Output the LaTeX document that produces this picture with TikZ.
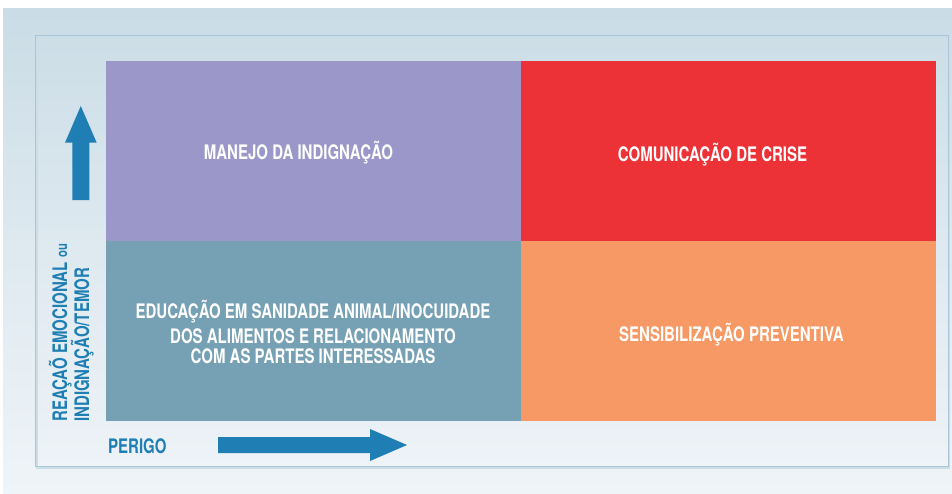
\documentclass[tikz,border=0pt]{standalone}
\usepackage{fontspec}
\newfontfamily\cnfont{TeX Gyre Heros}[FakeStretch=0.75]
\usetikzlibrary{positioning}
\definecolor{quadpurple}{HTML}{9B98C9}
\definecolor{quadred}{HTML}{EC3237}
\definecolor{quadteal}{HTML}{76A0B4}
\definecolor{quadorange}{HTML}{F79964}
\definecolor{axisblue}{HTML}{1F7EB3}
\definecolor{bgtop}{HTML}{CADCE6}
\definecolor{bgbottom}{HTML}{EFF4F8}
\definecolor{framecol}{HTML}{A9C6D6}
\tikzset{
	quad/.style={draw=none, inner sep=0pt, anchor=north west, minimum width=415pt, minimum height=179.75pt},
	quadtext/.style={text=white, font=\cnfont\bfseries\fontsize{20}{21}\selectfont, inner sep=0pt, anchor=base},
	axislabel/.style={text=axisblue, font=\cnfont\bfseries\fontsize{20}{21}\selectfont, inner sep=0pt, anchor=base west},
}
\begin{document}
\begin{tikzpicture}[x=1pt, y=-1pt]
			\useasboundingbox (0,0) rectangle (952,493);
			\fill[white] (0,0) rectangle (952,493);
			\shade[top color=bgtop, bottom color=bgbottom, middle color=bgtop!45!bgbottom] (3,8) rectangle (952,493);
			% frame
			\draw[framecol!60, line width=2pt] (36.5,36.5) rectangle (949,467.5);
			\draw[framecol, line width=1pt] (35,35) rectangle (948,466);
			% quadrants
			\foreach \name/\x/\y/\col in {manejo/106/61/quadpurple, crise/521/61/quadred, educacao/106/240.75/quadteal, sensib/521/240.75/quadorange}
				\node[quad, fill=\col] (\name) at (\x,\y) {};
			\node[quadtext] (manejotxt) at (298.5,159) {MANEJO DA INDIGNAÇÃO};
			\node[quadtext] (crisetxt) at (712.5,161) {COMUNICAÇÃO DE CRISE};
			\foreach \i/\t/\yb in {1/{EDUCAÇÃO EM SANIDADE ANIMAL/INOCUIDADE}/318.3, 2/{DOS ALIMENTOS E RELACIONAMENTO}/343.3, 3/{COM AS PARTES INTERESSADAS}/363.3}
				\node[quadtext] (educ\i) at (313,\yb) {\t};
			\node[quadtext] (sensibtxt) at (731.5,341) {SENSIBILIZAÇÃO PREVENTIVA};
			% axes
			\fill[axisblue] (72.3,200) -- (72.3,142.7) -- (65,142.7) -- (80.8,106) -- (96.7,142.7) -- (89.3,142.7) -- (89.3,200) -- cycle;
			\fill[axisblue] (218,437) -- (370,437) -- (370,429) -- (407,445) -- (370,461) -- (370,453) -- (218,453) -- cycle;
			\node[axislabel, rotate=90] (reacao) at (67,422) {REAÇAÕ EMOCIONAL {\fontsize{15}{15}\selectfont ou}};
			\node[axislabel, rotate=90] (indignacao) at (89,422) {INDIGNAÇÃO/TEMOR};
			\node[axislabel] (perigo) at (108,453) {PERIGO};
		\end{tikzpicture}
\end{document}
